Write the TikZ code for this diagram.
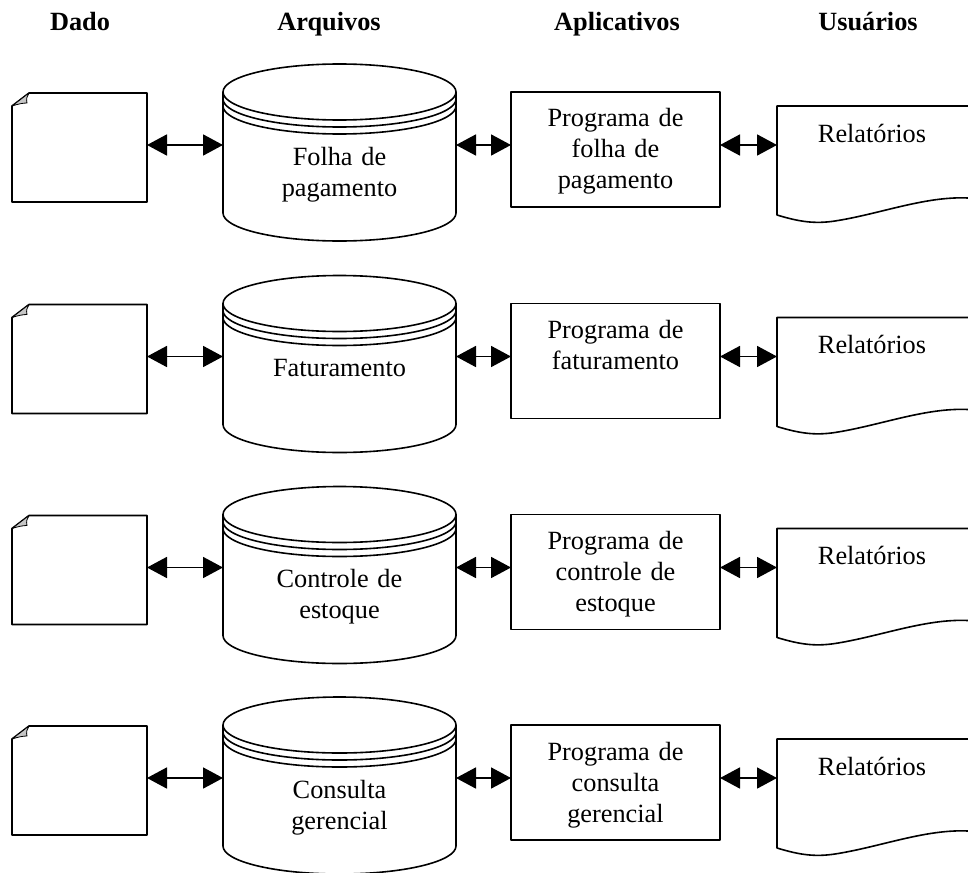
\documentclass[tikz,border=0pt]{standalone}
\usepackage{fontspec}
\setmainfont{Liberation Serif}
\usetikzlibrary{arrows.meta,calc}

\begin{document}
\begin{tikzpicture}[x=1pt,y=-1pt,
  every node/.style={inner sep=0pt, outer sep=0pt,
    font=\fontsize{26.3}{31}\selectfont},
  head/.style={font=\fontsize{26.3}{31}\selectfont\bfseries, anchor=base},
  outline/.style={line width=1.6pt, line join=round},
  datanode/.style={minimum width=135pt, minimum height=109pt},
  filenode/.style={text width=233pt, align=center, text height=102pt,
    text depth=77pt, anchor=north},
  prognode/.style={outline, draw, text width=209pt, align=center,
    text height=35pt, text depth=80pt, anchor=north},
  reportnode/.style={text width=190pt, align=center, text height=36pt,
    text depth=73pt, anchor=north},
  fold/.style={line width=0.8pt, fill=gray!45, line join=round},
  dbl/.style={{Triangle[length=20pt,width=21pt]}-{Triangle[length=20pt,width=21pt]},
    line width=1.8pt}
]
\useasboundingbox (0,0) rectangle (968,872);
\clip (0,0) rectangle (968,872);

% column headings
\node[head] (h1) at (80,31)  {Dado};
\node[head] (h2) at (329,31) {Arquivos};
\node[head] (h3) at (617,31) {Aplicativos};
\node[head] (h4) at (868,31) {Usuários};

\foreach \i/\a/\ft/\pt in {
  1/145/{Folha de\\pagamento}/{Programa de\\folha de\\pagamento},
  2/356.5/{Faturamento}/{Programa de\\faturamento},
  3/567.5/{Controle de\\estoque}/{Programa de\\controle de\\estoque},
  4/778/{Consulta\\gerencial}/{Programa de\\consulta\\gerencial}}{
  \coordinate (m\i) at (0,\a);

  % data sheet with folded corner
  \node[datanode] (d\i) at (79.5,\a+2.5) {};
  \draw[outline] (29,\a-52) -- (d\i.north east) -- (d\i.south east)
    -- (d\i.south west) -- (12,\a-39) -- cycle;
  \draw[fold] (12,\a-39) .. controls (18,\a-41) and (23,\a-42) .. (27,\a-42)
    .. controls (26,\a-46) and (27,\a-49) .. (29,\a-52) -- cycle;

  % file (disk cylinder)
  \node[filenode] (f\i) at (339.5,\a-82) {\ft};
  \draw[outline] (339.5,\a-53) ellipse [x radius=116.5pt, y radius=28pt];
  \draw[outline] (223,\a-46) arc[start angle=180, end angle=360,
    x radius=116.5pt, y radius=28pt];
  \draw[outline] (223,\a-39) arc[start angle=180, end angle=360,
    x radius=116.5pt, y radius=28pt];
  \draw[outline] (223,\a-53) -- (223,\a+68) arc[start angle=180, end angle=360,
    x radius=116.5pt, y radius=28pt] -- (456,\a-53);

  % application program
  \node[prognode] (p\i) at (615.5,\a-53) {\pt};

  % report document
  \node[reportnode] (r\i) at (872,\a-39) {Relatórios};
  \draw[outline] (968,\a-39) -- (777,\a-39) -- (777,\a+70)
    .. controls (800,\a+77) and (815,\a+79) .. (835,\a+76)
    .. controls (880,\a+69) and (925,\a+51) .. (968,\a+53);

  % data flows
  \draw[dbl] (d\i.east |- m\i) -- (f\i.west |- m\i);
  \draw[dbl] (f\i.east |- m\i) -- (p\i.west |- m\i);
  \draw[dbl] (p\i.east |- m\i) -- (r\i.west |- m\i);
}
\end{tikzpicture}
\end{document}
